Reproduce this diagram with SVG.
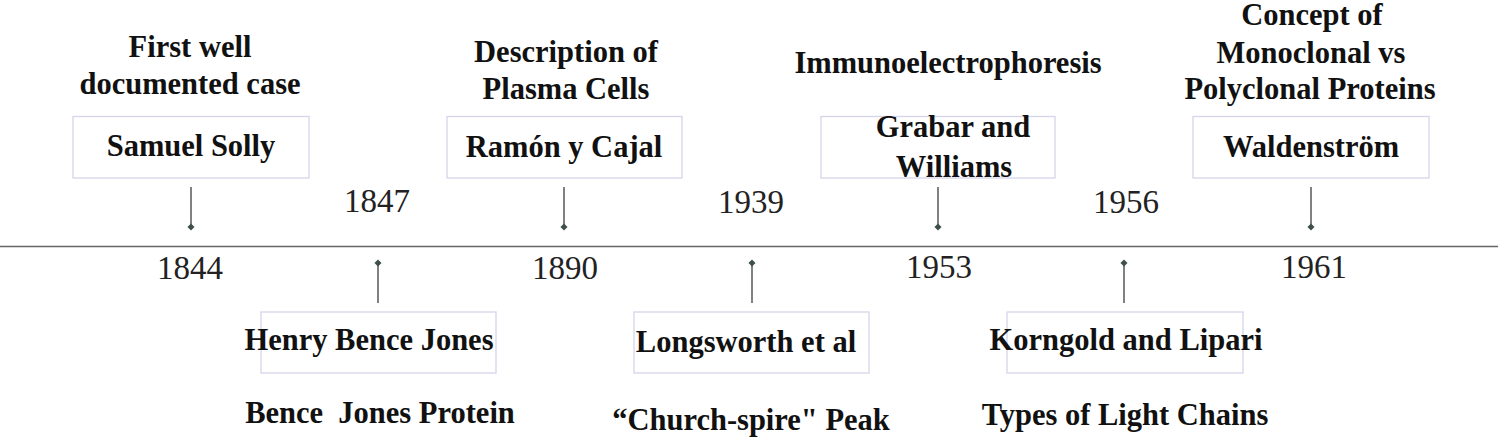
<svg xmlns="http://www.w3.org/2000/svg" width="1512" height="443" viewBox="0 0 1512 443">
<defs>
<style>
.box{fill:#ffffff;stroke:#d4d4ec;stroke-width:1.3}
.t{font-family:"Liberation Serif","Times New Roman",serif;font-weight:bold;font-size:30.5px;fill:#111;text-anchor:middle}
.y{font-family:"Liberation Serif","Times New Roman",serif;font-size:33px;fill:#222;text-anchor:middle}
.tick{stroke:#3a3f3e;stroke-width:1.3}
.dot{fill:#3e4f4c}
.axis{stroke:#666;stroke-width:1.6}
</style>
</defs>
<rect width="1512" height="443" fill="#ffffff"/>
<line class="axis" x1="0" y1="246.5" x2="1498" y2="246.5"/>
<g id="connectors">
<line class="tick" x1="191" y1="187" x2="191" y2="227"/><rect class="dot" x="188.5" y="224.5" width="5" height="5" transform="rotate(45 191 227)"/>
<line class="tick" x1="564" y1="187" x2="564" y2="227"/><rect class="dot" x="561.5" y="224.5" width="5" height="5" transform="rotate(45 564 227)"/>
<line class="tick" x1="938" y1="187" x2="938" y2="227"/><rect class="dot" x="935.5" y="224.5" width="5" height="5" transform="rotate(45 938 227)"/>
<line class="tick" x1="1311" y1="187" x2="1311" y2="227"/><rect class="dot" x="1308.5" y="224.5" width="5" height="5" transform="rotate(45 1311 227)"/>
<line class="tick" x1="378" y1="263" x2="378" y2="303"/><rect class="dot" x="375.5" y="260.5" width="5" height="5" transform="rotate(45 378 263)"/>
<line class="tick" x1="752" y1="263" x2="752" y2="303"/><rect class="dot" x="749.5" y="260.5" width="5" height="5" transform="rotate(45 752 263)"/>
<line class="tick" x1="1124" y1="263" x2="1124" y2="303"/><rect class="dot" x="1121.5" y="260.5" width="5" height="5" transform="rotate(45 1124 263)"/>
</g>
<g id="node-1844">
<text class="t" x="190" y="57">First well</text>
<text class="t" x="190" y="94">documented case</text>
<rect class="box" x="73" y="116.5" width="236" height="61.5"/>
<text class="t" x="191" y="156">Samuel Solly</text>
<text class="y" x="190" y="279">1844</text>
</g>
<g id="node-1847">
<text class="y" x="377" y="212">1847</text>
<rect class="box" x="261" y="312" width="235" height="61"/>
<text class="t" x="369" y="350">Henry Bence Jones</text>
<text class="t" x="380" y="423" xml:space="preserve">Bence  Jones Protein</text>
</g>
<g id="node-1890">
<text class="t" x="566" y="62">Description of</text>
<text class="t" x="566" y="99">Plasma Cells</text>
<rect class="box" x="447" y="116.5" width="235" height="61.5"/>
<text class="t" x="564" y="157">Ramón y Cajal</text>
<text class="y" x="565" y="279">1890</text>
</g>
<g id="node-1939">
<text class="y" x="751" y="213">1939</text>
<rect class="box" x="634" y="312" width="235" height="61"/>
<text class="t" x="746" y="352">Longsworth et al</text>
<text class="t" x="751" y="430">“Church-spire" Peak</text>
</g>
<g id="node-1953">
<text class="t" x="948" y="73">Immunoelectrophoresis</text>
<rect class="box" x="821" y="116.5" width="234" height="61.5"/>
<text class="t" x="953" y="137">Grabar and</text>
<text class="t" x="954" y="177">Williams</text>
<text class="y" x="939" y="278">1953</text>
</g>
<g id="node-1956">
<text class="y" x="1126" y="213">1956</text>
<rect class="box" x="1007" y="312" width="236" height="61"/>
<text class="t" x="1126" y="350">Korngold and Lipari</text>
<text class="t" x="1125" y="425">Types of Light Chains</text>
</g>
<g id="node-1961">
<text class="t" x="1312" y="25">Concept of</text>
<text class="t" x="1311" y="63">Monoclonal vs</text>
<text class="t" x="1310" y="99">Polyclonal Proteins</text>
<rect class="box" x="1193" y="116.5" width="236" height="61.5"/>
<text class="t" x="1311" y="157">Waldenström</text>
<text class="y" x="1314" y="278">1961</text>
</g>
</svg>
